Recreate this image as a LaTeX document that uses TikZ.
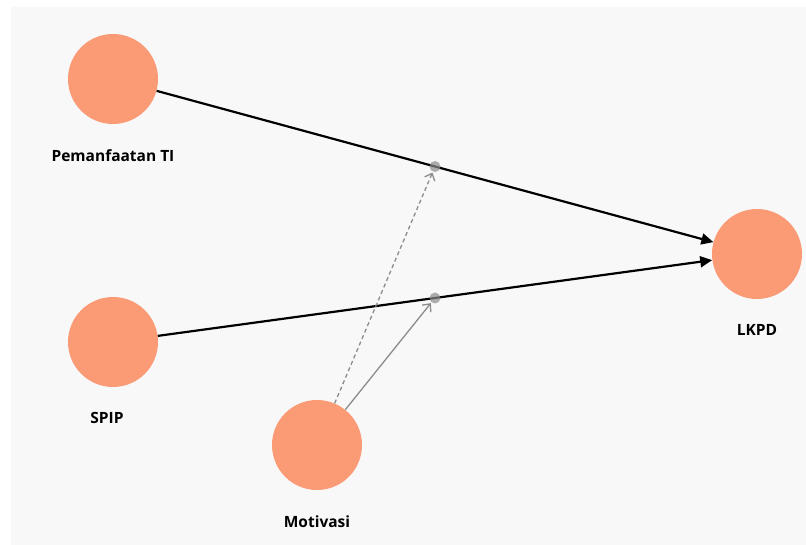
\documentclass[tikz,border=0pt]{standalone}
\usepackage{fontspec}
\setmainfont{Open Sans}
\usetikzlibrary{arrows.meta, positioning}
\definecolor{latentfill}{HTML}{FA9B76}
\definecolor{panel}{HTML}{F8F8F8}
\definecolor{modgray}{HTML}{8C8C8C}

\begin{document}
\begin{tikzpicture}[
    x=1pt, y=-1pt,
    latent/.style={circle, fill=latentfill, minimum size=90pt, inner sep=0pt},
    caption/.style={font=\fontsize{15.5}{18}\selectfont\bfseries, inner sep=0pt},
    moddot/.style={circle, fill=modgray, fill opacity=0.7, minimum size=11pt, inner sep=0pt},
    arrow/.style={-{Triangle[length=12pt, width=11pt]}, line width=2.2pt, black},
    modarrow/.style={-{Straight Barb[length=6pt, width=11pt]}, line width=1.3pt, modgray}
  ]
    \useasboundingbox (0,0) rectangle (806,545);
    \fill[panel] (11,7) rectangle (806,545);

    \node[latent] (pti) at (113,79) {};
    \node[latent] (spip) at (113,342) {};
    \node[latent] (mot) at (317,445) {};
    \node[latent] (lkpd) at (757,254) {};

    \node[caption, below=25pt of pti] (pti-lbl) {Pemanfaatan TI};
    \node[caption, below=25pt of spip, xshift=-6pt] (spip-lbl) {SPIP};
    \node[caption, below=25pt of mot] (mot-lbl) {Motivasi};
    \node[caption, below=25pt of lkpd] (lkpd-lbl) {LKPD};

    \draw[arrow] (pti) -- (lkpd) node[moddot, pos=0.5] (m1) {};
    \draw[arrow] (spip) -- (lkpd) node[moddot, pos=0.5] (m2) {};

    \draw[modarrow, dash pattern=on 4pt off 3pt] (mot) -- (m1);
    \draw[modarrow] (mot) -- (m2);
  \end{tikzpicture}
\end{document}
